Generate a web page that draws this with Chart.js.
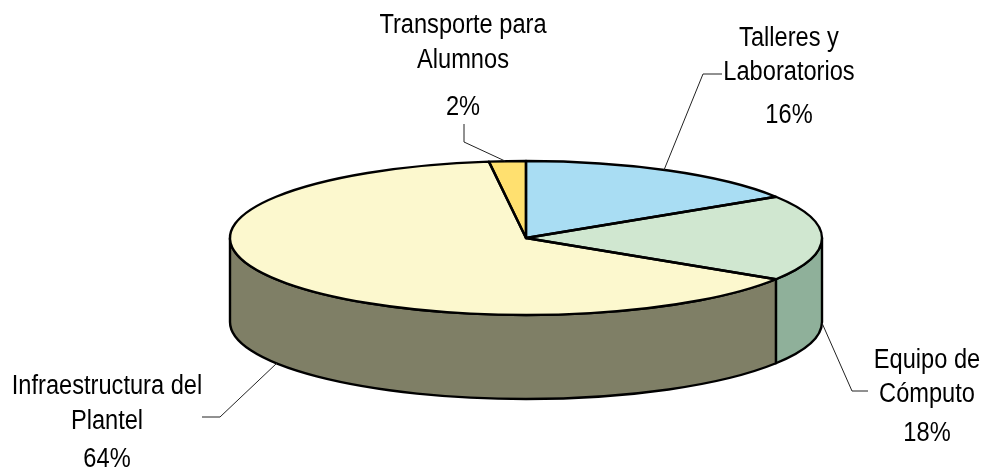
<!DOCTYPE html>
<html>
<head>
<meta charset="utf-8">
<style>
html,body{margin:0;padding:0;background:#fff;overflow:hidden}
#wrap{position:relative;width:983px;height:470px}
</style>
<script src="https://cdn.jsdelivr.net/npm/chart.js@4"></script>
</head>
<body>
<div id="wrap"><canvas id="c" width="983" height="470"></canvas></div>
<script>
const categories = ['Talleres y\nLaboratorios', 'Equipo de\nCómputo', 'Infraestructura del\nPlantel', 'Transporte para\nAlumnos'];
const values = [16, 18, 64, 2];
const topColors = ['#A9DDF3', '#D0E7D0', '#FCF8CE', '#FFE06F'];
const wallColors = ['#7E99A6', '#8FB09A', '#7F7F66', '#B5A050'];

// Presentation geometry of the tilted disc
const RX = 296, RY = 77, DEPTH = 84;
const LABEL_LAYOUT = [
  {x: 789, ys: [39, 73, 116], leader: [[664,170],[703,74],[722,74]]},
  {x: 927, ys: [361, 395, 434], leader: [[822,323],[852,391],[868,391]]},
  {x: 107, ys: [387, 422, 460], leader: [[277,363],[220,417],[202,417]]},
  {x: 463, ys: [26, 61, 108], leader: [[505,161],[464,142],[464,124]]}
];

const tiltPlugin = {
  id: 'tilt',
  beforeDatasetsDraw(chart) {
    const ctx = chart.ctx, arcs = chart.getDatasetMeta(0).data;
    const cx = arcs[0].x, cy = arcs[0].y, R = arcs[0].outerRadius;
    ctx.save();
    arcs.forEach((a, i) => {
      const s = Math.max(a.startAngle, 0), e = Math.min(a.endAngle, Math.PI);
      if (e <= s) return;
      ctx.beginPath();
      ctx.ellipse(cx, cy, RX, RY, 0, s, e);
      ctx.ellipse(cx, cy + DEPTH, RX, RY, 0, e, s, true);
      ctx.closePath();
      ctx.fillStyle = wallColors[i];
      ctx.fill();
      ctx.lineWidth = 2.4;
      ctx.strokeStyle = '#000';
      ctx.lineJoin = 'round';
      ctx.stroke();
    });
    ctx.restore();
    ctx.save();
    ctx.translate(cx, cy);
    ctx.scale(RX / R, RY / R);
    ctx.translate(-cx, -cy);
  },
  afterDatasetsDraw(chart) {
    const ctx = chart.ctx, arcs = chart.getDatasetMeta(0).data;
    ctx.restore();
    const cx = arcs[0].x, cy = arcs[0].y;
    ctx.save();
    ctx.lineWidth = 2.4;
    ctx.strokeStyle = '#000';
    ctx.lineJoin = 'round';
    arcs.forEach(a => {
      ctx.beginPath();
      ctx.moveTo(cx, cy);
      ctx.ellipse(cx, cy, RX, RY, 0, a.startAngle, a.endAngle);
      ctx.closePath();
      ctx.stroke();
    });
    // leaders and labels
    ctx.lineWidth = 1;
    ctx.strokeStyle = '#222';
    LABEL_LAYOUT.forEach(l => {
      ctx.beginPath();
      l.leader.forEach((p, j) => j ? ctx.lineTo(p[0], p[1]) : ctx.moveTo(p[0], p[1]));
      ctx.stroke();
    });
    ctx.fillStyle = '#000';
    ctx.font = '27px "Liberation Sans"';
    ctx.textAlign = 'center';
    ctx.textBaseline = 'middle';
    categories.forEach((c, i) => {
      const lines = c.split('\n').concat(values[i] + '%');
      lines.forEach((t, j) => {
        ctx.save();
        ctx.translate(LABEL_LAYOUT[i].x, LABEL_LAYOUT[i].ys[j]);
        ctx.scale(0.875, 1);
        ctx.fillText(t, 0, 0);
        ctx.restore();
      });
    });
    ctx.restore();
  }
};

new Chart(document.getElementById('c'), {
  type: 'pie',
  data: {
    labels: categories,
    datasets: [{data: values, backgroundColor: topColors, borderWidth: 0, clip: false}]
  },
  options: {
    responsive: false,
    animation: false,
    layout: {padding: {left: 69, top: 6}},
    plugins: {legend: {display: false}, tooltip: {enabled: false}}
  },
  plugins: [tiltPlugin]
});
</script>
</body>
</html>
